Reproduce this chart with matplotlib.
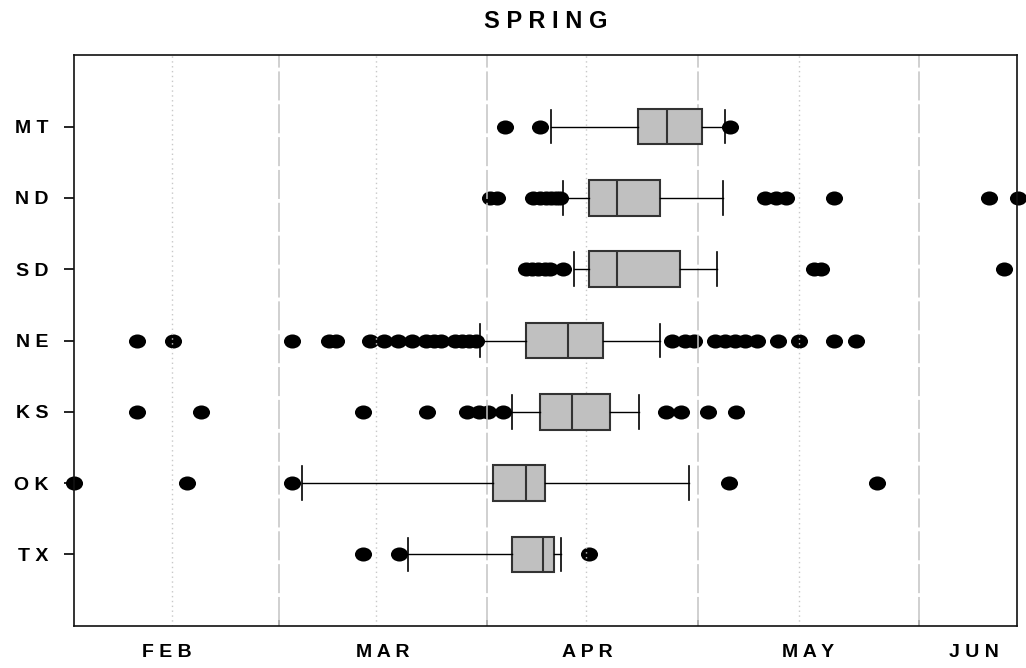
import matplotlib
matplotlib.use("Agg")
import matplotlib.pyplot as plt
from matplotlib.path import Path
from matplotlib.transforms import Affine2D

# ---------------- data (x values in day-of-year units) ----------------
states = ["MT", "ND", "SD", "NE", "KS", "OK", "TX"]
whislo = [99.1, 100.8, 102.4, 89.0, 93.6, 63.5, 78.7]
q1 = [111.5, 104.6, 104.6, 95.6, 97.6, 90.8, 93.6]
med = [115.7, 108.6, 108.6, 101.6, 102.1, 95.6, 98.0]
q3 = [120.7, 114.7, 117.6, 106.6, 107.6, 98.3, 99.6]
whishi = [124.0, 123.7, 122.9, 114.7, 111.7, 118.8, 100.6]

fliers_MT = [92.6, 97.6, 124.7]
fliers_ND = [90.4, 91.4, 96.6, 97.6, 98.4, 99.1, 99.9, 100.4,
             129.7, 131.3, 132.7, 139.6, 161.7, 165.8]
fliers_SD = [95.6, 96.4, 97.3, 98.3, 99.0, 100.9, 136.7, 137.7, 163.8]
fliers_NE = [40.0, 45.2, 62.2, 67.4, 68.4, 73.3, 75.3, 77.3, 79.3, 81.3,
             82.4, 83.4, 85.4, 86.4, 87.4, 88.4,
             116.4, 118.3, 119.5, 122.6, 124.0, 125.4, 126.9, 128.5,
             131.6, 134.6, 139.6, 142.7]
fliers_KS = [40.0, 49.1, 72.3, 81.4, 87.1, 88.8, 90.2, 92.3,
             115.6, 117.7, 121.6, 125.6]
fliers_OK = [31.0, 47.1, 62.2, 124.6, 145.7]
fliers_TX = [72.3, 77.4, 104.6]
fliers = [fliers_MT, fliers_ND, fliers_SD, fliers_NE, fliers_KS, fliers_OK, fliers_TX]

month_labels = ["FEB", "MAR", "APR", "MAY", "JUN"]
month_label_pos = [44.3, 75.1, 104.4, 135.8, 159.6]
month_starts = [60.3, 90.0, 120.1, 151.7]
mid_months = [45.0, 74.2, 104.1, 134.6]
title = "SPRING"

# ---------------- figure ----------------
plt.rcParams['font.family'] = ['Liberation Sans', 'DejaVu Sans']
fig = plt.figure(figsize=(10.26, 6.68), dpi=100)
ax = fig.add_axes([74 / 1026, 1 - 625.7 / 668, (1016.7 - 74) / 1026, (625.7 - 55.3) / 668])


def spaced(s):
    return " ".join(s)


positions = list(range(len(states), 0, -1))
stats = []
for i, s in enumerate(states):
    stats.append(dict(label=s, whislo=whislo[i], q1=q1[i], med=med[i],
                      q3=q3[i], whishi=whishi[i], fliers=fliers[i]))

ellipse = Path.unit_circle().transformed(Affine2D().scale(1.0, 14.0 / 17.0))

bp = ax.bxp(stats, positions=positions, orientation='horizontal', widths=0.5,
            capwidths=0.47, patch_artist=True, manage_ticks=False,
            boxprops=dict(facecolor='#c0c0c0', edgecolor='#333333', linewidth=1.5),
            medianprops=dict(color='#333333', linewidth=1.5),
            whiskerprops=dict(color='black', linewidth=1.0),
            capprops=dict(color='black', linewidth=1.2),
            flierprops=dict(marker=ellipse, markersize=12.3, markerfacecolor='black',
                            markeredgecolor='black', markeredgewidth=0, linestyle='none'),
            zorder=3)
for fl in bp['fliers']:
    fl.set_zorder(1)
    fl.set_clip_on(False)

for x in month_starts:
    ax.axvline(x, color='#c4c4c4', linewidth=1.1, linestyle=(0, (19, 2.5)), zorder=2)
for x in mid_months:
    ax.axvline(x, color='#c8c8c8', linewidth=1.0, linestyle=(0, (1, 2.5)), zorder=2)

ax.set_xlim(31.0, 165.67)
ax.set_ylim(0, 8)

ax.set_yticks(positions)
ax.set_yticklabels([spaced(s) for s in states], fontsize=14, fontweight='bold')
ax.tick_params(axis='y', direction='out', length=7.2, width=1.2, pad=11)

ax.set_xticks(month_label_pos)
ax.set_xticklabels([spaced(m) for m in month_labels], fontsize=14, fontweight='bold')
ax.tick_params(axis='x', which='major', length=0, pad=13)
ax.set_xticks(month_starts, minor=True)
ax.tick_params(axis='x', which='minor', direction='in', length=4, width=1.2, color='#555555')

for sp in ax.spines.values():
    sp.set_linewidth(1.2)
    sp.set_color('#111111')

fig.text((74 + 1016.7) / 2 / 1026, 1 - 21 / 668, spaced(title), ha='center', va='center',
         fontsize=17, fontweight='bold')

fig.savefig("out.png", dpi=100)
